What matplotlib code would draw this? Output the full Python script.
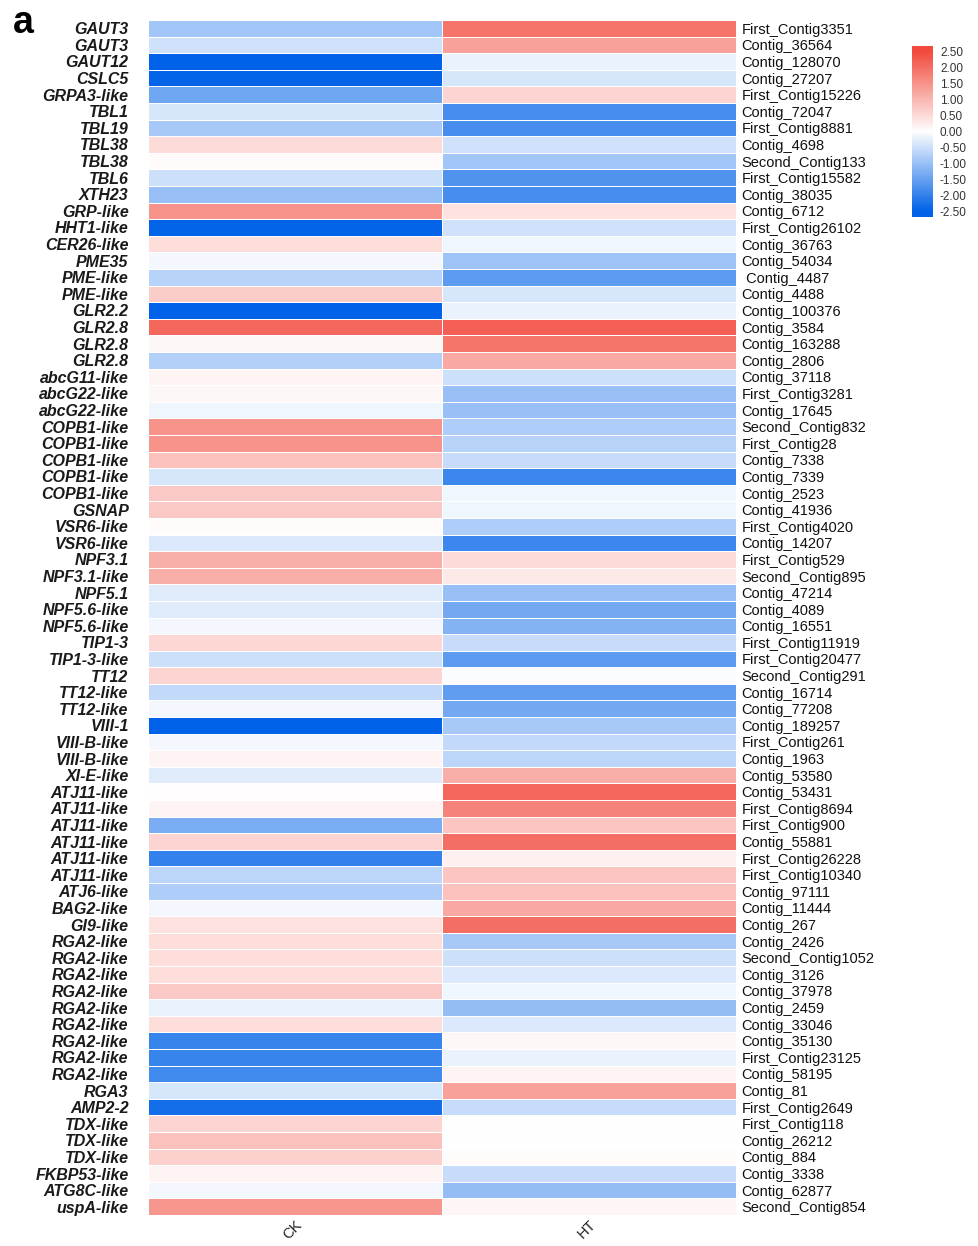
import numpy as np
import matplotlib
matplotlib.use("Agg")
import matplotlib.pyplot as plt
from matplotlib.colors import LinearSegmentedColormap, Normalize

genes = ["GAUT3", "GAUT3", "GAUT12", "CSLC5", "GRPA3-like", "TBL1", "TBL19", "TBL38", "TBL38",
         "TBL6", "XTH23", "GRP-like", "HHT1-like", "CER26-like", "PME35", "PME-like", "PME-like",
         "GLR2.2", "GLR2.8", "GLR2.8", "GLR2.8", "abcG11-like", "abcG22-like", "abcG22-like",
         "COPB1-like", "COPB1-like", "COPB1-like", "COPB1-like", "COPB1-like", "GSNAP",
         "VSR6-like", "VSR6-like", "NPF3.1", "NPF3.1-like", "NPF5.1", "NPF5.6-like", "NPF5.6-like",
         "TIP1-3", "TIP1-3-like", "TT12", "TT12-like", "TT12-like", "VIII-1", "VIII-B-like",
         "VIII-B-like", "XI-E-like", "ATJ11-like", "ATJ11-like", "ATJ11-like", "ATJ11-like",
         "ATJ11-like", "ATJ11-like", "ATJ6-like", "BAG2-like", "GI9-like", "RGA2-like",
         "RGA2-like", "RGA2-like", "RGA2-like", "RGA2-like", "RGA2-like", "RGA2-like",
         "RGA2-like", "RGA2-like", "RGA3", "AMP2-2", "TDX-like", "TDX-like", "TDX-like",
         "FKBP53-like", "ATG8C-like", "uspA-like"]

contigs = ["First_Contig3351", "Contig_36564", "Contig_128070", "Contig_27207", "First_Contig15226",
           "Contig_72047", "First_Contig8881", "Contig_4698", "Second_Contig133", "First_Contig15582",
           "Contig_38035", "Contig_6712", "First_Contig26102", "Contig_36763", "Contig_54034",
           " Contig_4487", "Contig_4488", "Contig_100376", "Contig_3584", "Contig_163288",
           "Contig_2806", "Contig_37118", "First_Contig3281", "Contig_17645", "Second_Contig832",
           "First_Contig28", "Contig_7338", "Contig_7339", "Contig_2523", "Contig_41936",
           "First_Contig4020", "Contig_14207", "First_Contig529", "Second_Contig895",
           "Contig_47214", "Contig_4089", "Contig_16551", "First_Contig11919", "First_Contig20477",
           "Second_Contig291", "Contig_16714", "Contig_77208", "Contig_189257", "First_Contig261",
           "Contig_1963", "Contig_53580", "Contig_53431", "First_Contig8694", "First_Contig900",
           "Contig_55881", "First_Contig26228", "First_Contig10340", "Contig_97111", "Contig_11444",
           "Contig_267", "Contig_2426", "Second_Contig1052", "Contig_3126", "Contig_37978",
           "Contig_2459", "Contig_33046", "Contig_35130", "First_Contig23125", "Contig_58195",
           "Contig_81", "First_Contig2649", "First_Contig118", "Contig_26212", "Contig_884",
           "Contig_3338", "Contig_62877", "Second_Contig854"]

ck = [-0.9, -0.45, -2.5, -2.45, -1.4, -0.4, -0.85, 0.5, 0.05, -0.5, -1.0, 1.5, -2.45, 0.45,
      -0.1, -0.7, 0.7, -2.5, 2.1, 0.1, -0.75, 0.15, 0.1, -0.15, 1.5, 1.5, 0.85, -0.4, 0.75, 0.75,
      0.05, -0.35, 1.1, 1.1, -0.3, -0.3, -0.1, 0.55, -0.5, 0.6, -0.6, -0.1, -2.5, -0.1, 0.15,
      -0.3, 0.03, 0.15, -1.3, 0.6, -2.0, -0.65, -0.8, -0.1, 0.4, 0.45, 0.45, 0.45, 0.75, -0.2,
      0.45, -1.95, -1.95, -1.85, -0.4, -2.3, 0.6, 0.85, 0.65, 0.15, -0.1, 1.45]

ht = [1.9, 1.3, -0.2, -0.4, 0.6, -1.8, -1.8, -0.45, -0.9, -1.7, -1.8, 0.4, -0.45, -0.15,
      -0.95, -1.6, -0.4, -0.2, 2.2, 1.9, 1.2, -0.5, -1.0, -1.0, -0.8, -0.7, -0.55, -1.9, -0.15,
      -0.15, -0.8, -1.9, 0.5, 0.3, -1.0, -1.35, -1.2, -0.55, -1.6, -0.05, -1.55, -1.35, -0.85,
      -0.6, -0.65, 1.1, 2.1, 1.7, 0.8, 2.0, 0.2, 0.8, 0.85, 1.2, 2.0, -0.85, -0.5, -0.35, -0.15,
      -1.05, -0.35, 0.1, -0.2, 0.15, 1.3, -0.55, 0.0, 0.0, 0.05, -0.55, -1.05, 0.12]

groups = ["CK", "HT"]
cbar_ticks = [2.5, 2.0, 1.5, 1.0, 0.5, 0.0, -0.5, -1.0, -1.5, -2.0, -2.5]

W, H = 979, 1246
fig = plt.figure(figsize=(W / 100, H / 100), dpi=100)
fig.patch.set_facecolor("white")

cmap = LinearSegmentedColormap.from_list("bwr2", ["#0062E8", "#FFFFFF", "#F24B3E"])
norm = Normalize(vmin=-2.5, vmax=2.5)

x0, x1 = 148, 736
y0, y1 = 20, 1215
ax = fig.add_axes([x0 / W, 1 - y1 / H, (x1 - x0) / W, (y1 - y0) / H])
data = np.column_stack([ck, ht])
n = len(genes)
ax.pcolormesh(np.arange(3), np.arange(n + 1), data, cmap=cmap, norm=norm,
              edgecolors="white", linewidth=0.6)
ax.set_xlim(0, 2)
ax.set_ylim(n, 0)
for s in ax.spines.values():
    s.set_visible(False)
ax.tick_params(length=0)
ax.set_yticks(np.arange(n) + 0.5)
ax.set_yticklabels(genes, fontsize=11.5, fontstyle="italic", fontweight="bold",
                   family=["Liberation Sans", "DejaVu Sans"], color="#1a1a1a")
ax.tick_params(axis="y", pad=14)
ax.set_xticks([0.5, 1.5])
ax.set_xticklabels(groups, rotation=45, ha="right", va="top", rotation_mode="anchor",
                   fontsize=10.5, family=["Liberation Sans", "DejaVu Sans"], color="#222222")
ax.tick_params(axis="x", pad=2)

ax2 = ax.twinx()
ax2.set_ylim(n, 0)
ax2.set_yticks(np.arange(n) + 0.5)
ax2.set_yticklabels(contigs, fontsize=10.5, family=["Liberation Sans", "DejaVu Sans"], color="#111111")
ax2.tick_params(length=0, pad=4)
for s in ax2.spines.values():
    s.set_visible(False)

# colour bar
cx0, cx1, cy0, cy1 = 912, 933, 46, 217
cax = fig.add_axes([cx0 / W, 1 - cy1 / H, (cx1 - cx0) / W, (cy1 - cy0) / H])
d = 0.16
grad = np.linspace(2.5 + d, -2.5 - d, 256).reshape(-1, 1)
cax.imshow(grad, aspect="auto", cmap=cmap, norm=norm, extent=[0, 1, -2.5 - d, 2.5 + d])
cax.set_xticks([])
cax.yaxis.tick_right()
cax.set_yticks(cbar_ticks)
cax.set_yticklabels([f"{t:.2f}" for t in cbar_ticks], fontsize=8.5,
                    family=["Liberation Sans", "DejaVu Sans"], color="#333333")
cax.tick_params(length=0, pad=5)
for s in cax.spines.values():
    s.set_visible(False)

fig.text(13 / W, 1 - 33 / H, "a", fontsize=27, fontweight="bold",
         family=["Liberation Sans", "DejaVu Sans"], va="baseline", ha="left")

fig.savefig("out.png", dpi=100)
